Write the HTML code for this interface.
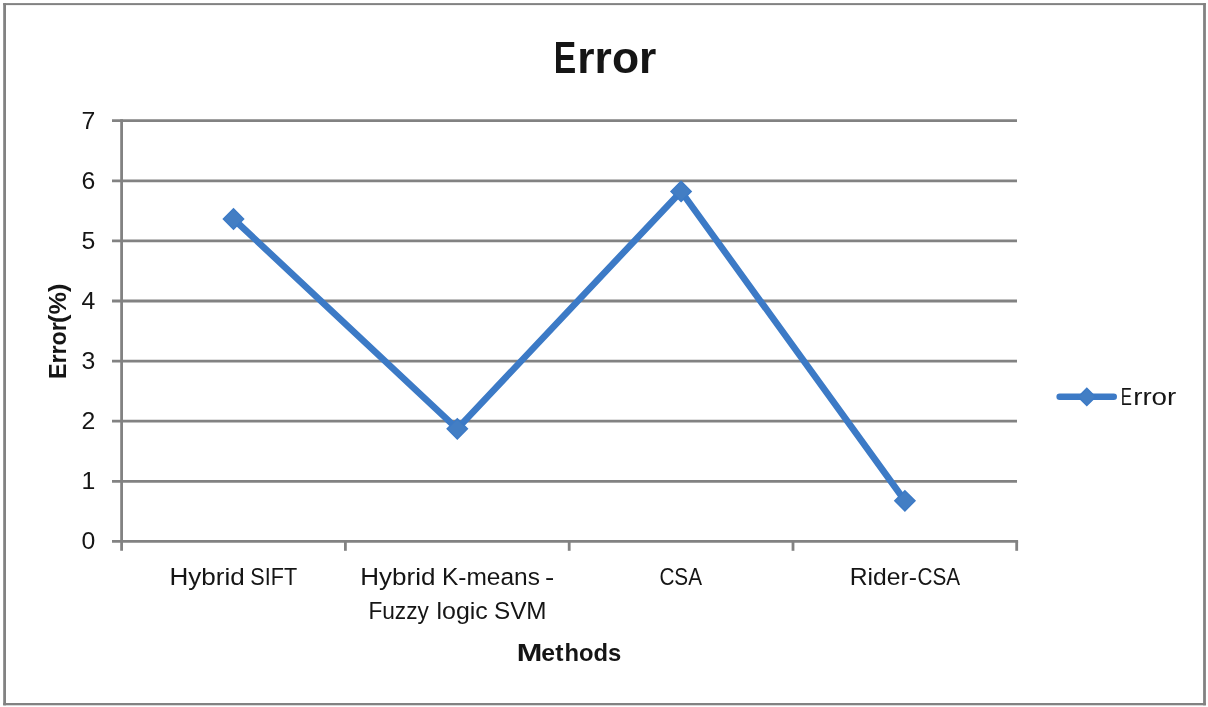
<!DOCTYPE html>
<html lang="en">
<head>
<meta charset="utf-8">
<title>Error</title>
<style>
  html, body { margin: 0; padding: 0; background: #ffffff; }
  body { width: 1208px; height: 707px; overflow: hidden; }
  svg { display: block; }
  text { font-family: "Liberation Sans", sans-serif; fill: #151515; white-space: pre; }
  .b { font-weight: bold; }
</style>
</head>
<body>
<svg width="1208" height="707" viewBox="0 0 1208 707">
  <rect x="0" y="0" width="1208" height="707" fill="#ffffff"/>
  <!-- outer chart border -->
  <g fill="#828282">
    <rect x="3.2" y="3.1" width="1202.7" height="2.0"/>
    <rect x="3.2" y="703.0" width="1202.7" height="2.3"/>
    <rect x="3.2" y="3.1" width="2.8" height="702.2"/>
    <rect x="1203.1" y="3.1" width="2.8" height="702.2"/>
  </g>
  <!-- gridlines, axes and tick marks -->
  <g stroke="#828282" stroke-width="2.8" fill="none">
    <line x1="112" y1="120.7" x2="1017.0" y2="120.7"/>
    <line x1="112" y1="180.8" x2="1017.0" y2="180.8"/>
    <line x1="112" y1="240.9" x2="1017.0" y2="240.9"/>
    <line x1="112" y1="301.0" x2="1017.0" y2="301.0"/>
    <line x1="112" y1="361.1" x2="1017.0" y2="361.1"/>
    <line x1="112" y1="421.2" x2="1017.0" y2="421.2"/>
    <line x1="112" y1="481.3" x2="1017.0" y2="481.3"/>
    <line x1="112" y1="541.4" x2="1018.1" y2="541.4"/>
    <line x1="121.6" y1="119.3" x2="121.6" y2="550.8"/>
    <line x1="345.4" y1="541.4" x2="345.4" y2="550.8"/>
    <line x1="569.2" y1="541.4" x2="569.2" y2="550.8"/>
    <line x1="793.0" y1="541.4" x2="793.0" y2="550.8"/>
    <line x1="1016.7" y1="541.4" x2="1016.7" y2="550.8"/>
  </g>
  <!-- value axis labels -->
  <g font-size="24.8" text-anchor="end">
    <text x="95.3" y="128.6">7</text>
    <text x="95.3" y="188.7">6</text>
    <text x="95.3" y="248.8">5</text>
    <text x="95.3" y="308.9">4</text>
    <text x="95.3" y="369.0">3</text>
    <text x="95.3" y="429.1">2</text>
    <text x="95.3" y="489.2">1</text>
    <text x="95.3" y="549.3">0</text>
  </g>
  <!-- data series -->
  <polyline points="233.5,219.0 457.3,428.8 681.1,191.4 904.9,500.8" fill="none" stroke="#3c7ac6" stroke-width="6.6" stroke-linejoin="round" stroke-linecap="butt"/>
  <g fill="#437ec4" stroke="#3c7ac6" stroke-width="1.4">
    <path d="M233.50 208.85 L243.65 219.00 L233.50 229.15 L223.35 219.00 Z"/>
    <path d="M457.30 418.65 L467.45 428.80 L457.30 438.95 L447.15 428.80 Z"/>
    <path d="M681.10 181.25 L691.25 191.40 L681.10 201.55 L670.95 191.40 Z"/>
    <path d="M904.90 490.65 L915.05 500.80 L904.90 510.95 L894.75 500.80 Z"/>
  </g>
  <!-- chart title, axis titles, category labels, legend text -->
  <text class="b" font-size="45.0"><tspan x="553.65" y="73.0" textLength="22.47" lengthAdjust="spacingAndGlyphs">E</tspan><tspan x="577.34" y="73.0" textLength="79.01" lengthAdjust="spacingAndGlyphs">rror</tspan></text>
  <text font-size="23.7"><tspan x="169.40" y="585.45" textLength="75.34" lengthAdjust="spacingAndGlyphs">Hybrid</tspan> <tspan x="250.27" y="585.45" textLength="46.85" lengthAdjust="spacingAndGlyphs">SIFT</tspan></text>
  <text font-size="23.7"><tspan x="360.20" y="585.45" textLength="75.23" lengthAdjust="spacingAndGlyphs">Hybrid</tspan> <tspan x="442.03" y="585.45" textLength="97.92" lengthAdjust="spacingAndGlyphs">K-means</tspan> <tspan x="544.93" y="585.45" textLength="9.27" lengthAdjust="spacingAndGlyphs">-</tspan></text>
  <text font-size="23.7"><tspan x="368.39" y="619.45" textLength="60.47" lengthAdjust="spacingAndGlyphs">Fuzzy</tspan> <tspan x="436.49" y="619.45" textLength="51.34" lengthAdjust="spacingAndGlyphs">logic</tspan> <tspan x="493.95" y="619.45" textLength="52.67" lengthAdjust="spacingAndGlyphs">SVM</tspan></text>
  <text font-size="23.7"><tspan x="659.41" y="585.45" textLength="42.57" lengthAdjust="spacingAndGlyphs">CSA</tspan></text>
  <text font-size="23.7"><tspan x="849.72" y="585.45" textLength="67.23" lengthAdjust="spacingAndGlyphs">Rider-</tspan><tspan x="917.51" y="585.45" textLength="42.57" lengthAdjust="spacingAndGlyphs">CSA</tspan></text>
  <text class="b" font-size="23.7"><tspan x="516.79" y="661.0" textLength="25.59" lengthAdjust="spacingAndGlyphs">M</tspan><tspan x="541.38" y="661.0" textLength="22.04" lengthAdjust="spacingAndGlyphs">et</tspan><tspan x="564.47" y="661.0" textLength="56.80" lengthAdjust="spacingAndGlyphs">hods</tspan></text>
  <text font-size="24.4"><tspan x="1120.73" y="404.5" textLength="11.18" lengthAdjust="spacingAndGlyphs">E</tspan><tspan x="1133.15" y="404.5" textLength="43.15" lengthAdjust="spacingAndGlyphs">rror</tspan></text>
  <text class="b" font-size="24.3" transform="translate(65.8 0) rotate(-90)"><tspan x="-379.05" y="0" textLength="56.86" lengthAdjust="spacingAndGlyphs">Error</tspan><tspan x="-322.90" y="0" textLength="39.43" lengthAdjust="spacingAndGlyphs">(%)</tspan></text>
  <!-- legend -->
  <line x1="1059.7" y1="396.7" x2="1113.7" y2="396.7" stroke="#3c7ac6" stroke-width="6.6" stroke-linecap="round"/>
  <path d="M1086.80 388.20 L1095.50 396.90 L1086.80 405.60 L1078.10 396.90 Z" fill="#437ec4" stroke="#3c7ac6" stroke-width="1.4"/>
</svg>
</body>
</html>
